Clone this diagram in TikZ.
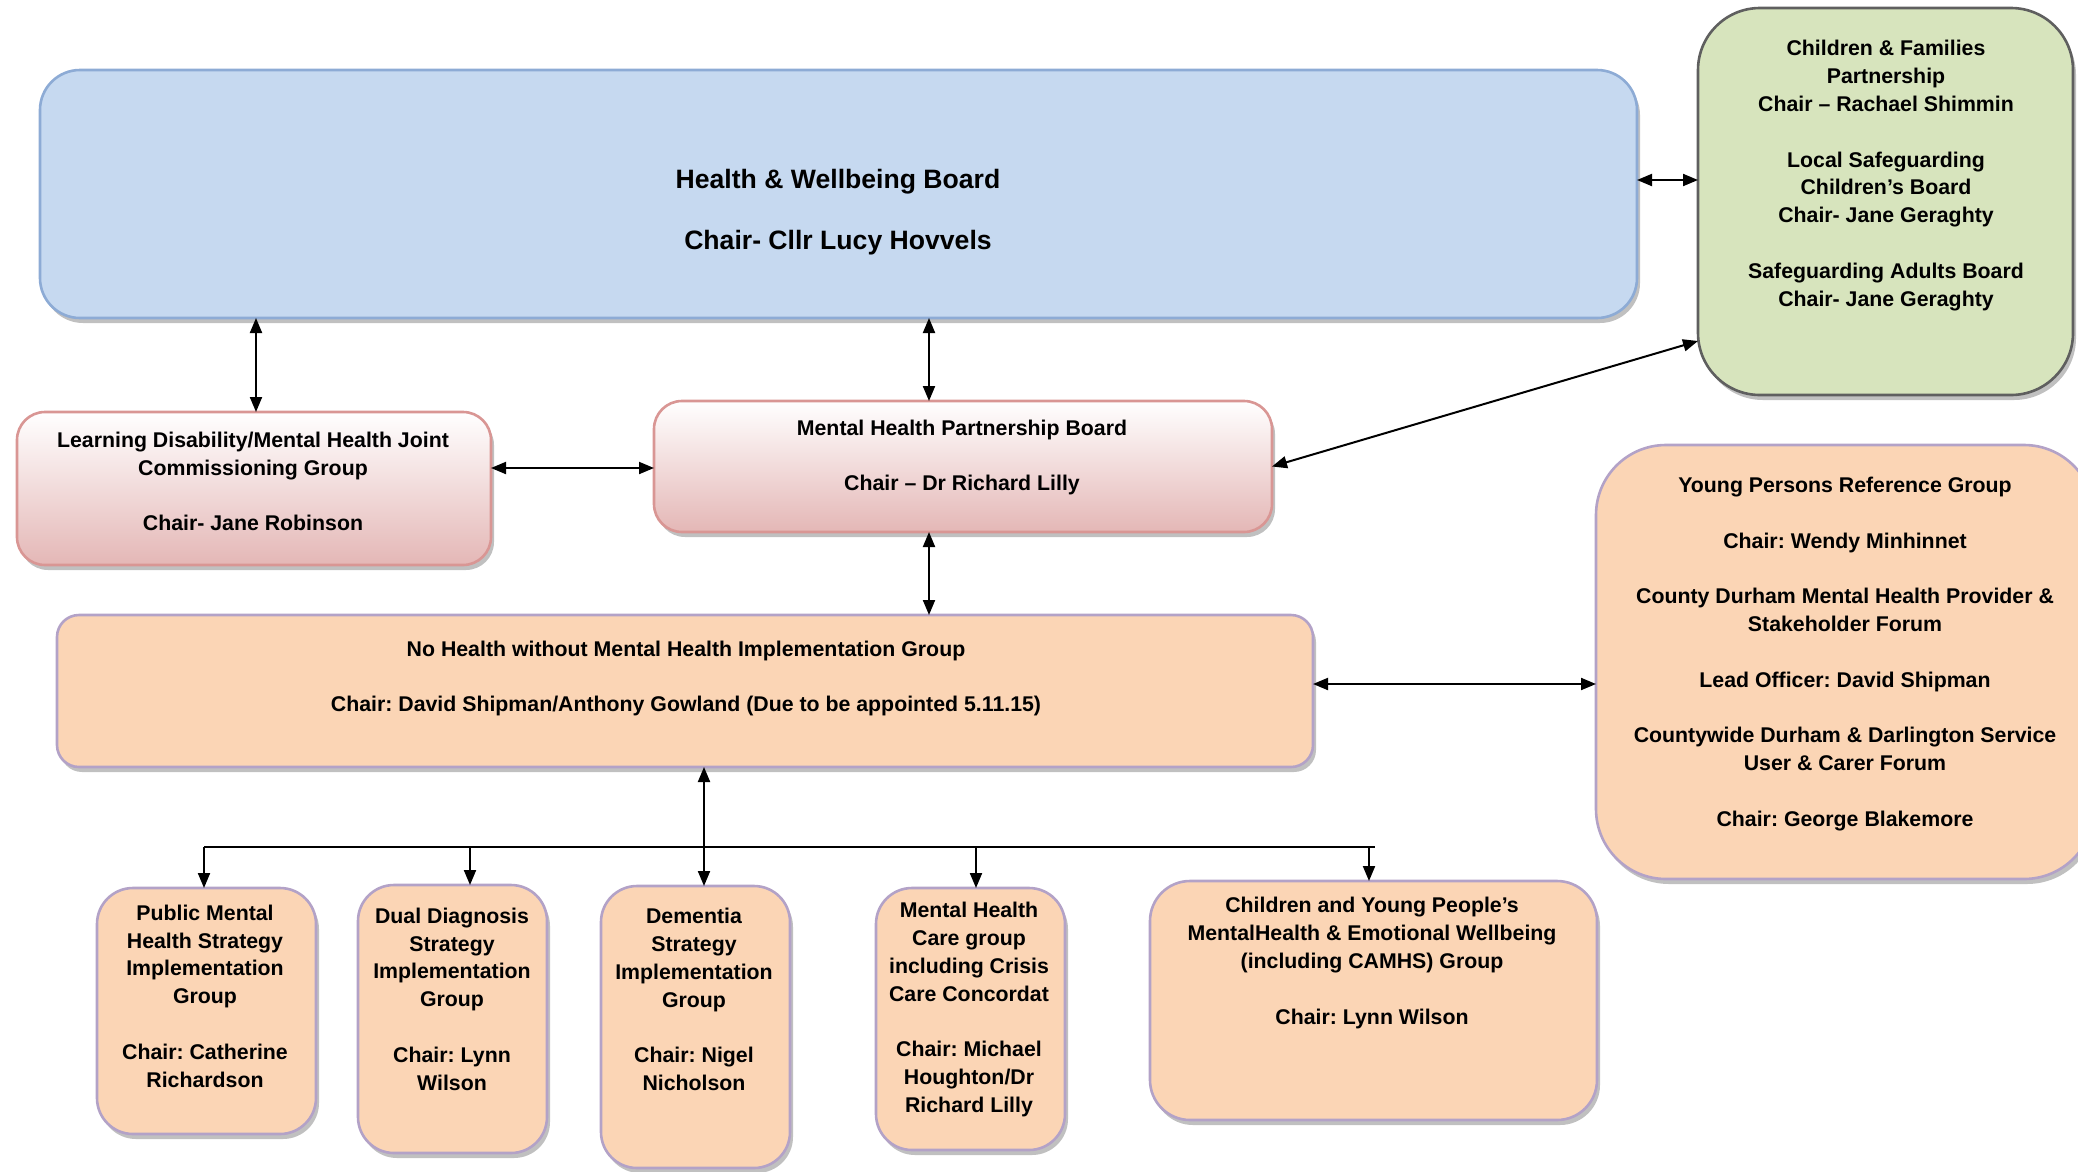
\documentclass[tikz,border=0pt]{standalone}
\usepackage{fontspec}
\setmainfont{Liberation Sans}
\usetikzlibrary{arrows.meta,shadows,calc}
\definecolor{blueF}{RGB}{198,217,240}
\definecolor{blueD}{RGB}{141,171,213}
\definecolor{greenF}{RGB}{215,228,189}
\definecolor{greenD}{RGB}{95,95,95}
\definecolor{pinkB}{RGB}{228,183,182}
\definecolor{pinkD}{RGB}{217,150,148}
\definecolor{peachF}{RGB}{251,213,181}
\definecolor{peachD}{RGB}{179,162,199}
\frenchspacing
\begin{document}
\begin{tikzpicture}[x=1pt,y=-1pt,
  box/.style={rounded corners=#1, line width=2.6pt, inner sep=0pt, outer sep=0pt,
    drop shadow={shadow xshift=3pt,shadow yshift=-5pt,fill=black!55,opacity=0.45}},
  bluebox/.style={box=#1, fill=blueF, draw=blueD},
  greenbox/.style={box=#1, fill=greenF, draw=greenD},
  pinkbox/.style={box=#1, top color=white, bottom color=pinkB, draw=pinkD},
  peachbox/.style={box=#1, fill=peachF, draw=peachD},
  txt/.style={align=center, inner sep=0pt, font=\frenchspacing\fontsize{21.3pt}{27.8pt}\selectfont\bfseries},
  bigtxt/.style={align=center, inner sep=0pt, font=\frenchspacing\fontsize{26.6pt}{30.5pt}\selectfont\bfseries},
  dbl/.style={{Triangle[length=15pt,width=12pt]}-{Triangle[length=15pt,width=12pt]}, line width=2pt},
  arr/.style={-{Triangle[length=15pt,width=12pt]}, line width=2pt},
  bus/.style={line width=2.4pt}
]
\useasboundingbox (0,0) rectangle (2078,1171);
\clip (0,0) rectangle (2078,1171);

% boxes
\node[bluebox=40pt, minimum width=1597pt, minimum height=248pt] (hwb) at (838.5,194) {};
\node[greenbox=62pt, minimum width=375pt, minimum height=387pt] (grn) at (1885.5,201.5) {};
\node[pinkbox=28pt, minimum width=474pt, minimum height=153pt] (ld) at (254,488.5) {};
\node[pinkbox=28pt, minimum width=618pt, minimum height=131pt] (mhpb) at (963,466.5) {};
\node[peachbox=22pt, minimum width=1256pt, minimum height=152pt] (nhw) at (685,691) {};
\node[peachbox=70pt, minimum width=498pt, minimum height=434pt] (yp) at (1845,662) {};
\node[peachbox=36pt, minimum width=219pt, minimum height=246pt] (pub) at (206.5,1011) {};
\node[peachbox=36pt, minimum width=189pt, minimum height=268pt] (dual) at (452.5,1019) {};
\node[peachbox=36pt, minimum width=189pt, minimum height=282pt] (dem) at (695.5,1027) {};
\node[peachbox=36pt, minimum width=189pt, minimum height=262pt] (mhc) at (970.5,1019) {};
\node[peachbox=40pt, minimum width=447pt, minimum height=239pt] (cyp) at (1373.5,1000.5) {};

% texts
\node[bigtxt] (hwbT) at (838,212) {Health \& Wellbeing Board\\[30.5pt]Chair- Cllr Lucy Hovvels};
\node[txt] (grnT) at (1886,175.5) {Children \& Families\\Partnership\\Chair – Rachael Shimmin\\[27.8pt]Local Safeguarding\\Children’s Board\\Chair- Jane Geraghty\\[27.8pt]Safeguarding Adults Board\\Chair- Jane Geraghty};
\node[txt] (ldT) at (253,481.5) {Learning Disability/Mental Health Joint\\Commissioning Group\\[27.8pt]Chair- Jane Robinson};
\node[txt] (mhpbT) at (962,457.5) {Mental Health Partnership Board\\[27.8pt]Chair – Dr Richard Lilly};
\node[txt] (nhwT) at (686,678.5) {No Health without Mental Health Implementation Group\\[27.8pt]Chair: David Shipman/Anthony Gowland (Due to be appointed 5.11.15)};
\node[txt] (ypT) at (1845,654) {Young Persons Reference Group\\[27.8pt]Chair: Wendy Minhinnet\\[27.8pt]County Durham Mental Health Provider \&\\Stakeholder Forum\\[27.8pt]Lead Officer: David Shipman\\[27.8pt]Countywide Durham \& Darlington Service\\User \& Carer Forum\\[27.8pt]Chair: George Blakemore};
\node[txt] (pubT) at (205,996) {Public Mental\\Health Strategy\\Implementation\\Group\\[27.8pt]Chair: Catherine\\Richardson};
\node[txt] (dualT) at (452,999) {Dual Diagnosis\\Strategy\\Implementation\\Group\\[27.8pt]Chair: Lynn\\Wilson};
\node[txt] (demT) at (694,999.5) {Dementia\\Strategy\\Implementation\\Group\\[27.8pt]Chair: Nigel\\Nicholson};
\node[txt] (mhcT) at (969,1009.5) {Mental Health\\Care group\\including Crisis\\Care Concordat\\[27.8pt]Chair: Michael\\Houghton/Dr\\Richard Lilly};
\node[txt] (cypT) at (1372,963) {Children and Young People’s\\MentalHealth \& Emotional Wellbeing\\(including CAMHS) Group\\[27.8pt]Chair: Lynn Wilson};

% connector reference coordinates
\coordinate (xa) at (256,0);
\coordinate (xb) at (929,0);
\coordinate (xc) at (704,0);
\coordinate (ya) at (0,468);
\coordinate (yb) at (0,180);
\coordinate (yc) at (0,341);
\coordinate (yd) at (0,684);
\coordinate (bL) at (204,847);
\coordinate (bR) at (1375,847);
\coordinate (b2) at (470,847);
\coordinate (b4) at (976,847);
\coordinate (b5) at (1369,847);

% connectors
\draw[dbl] (hwb.south -| xa) -- (ld.north -| xa);
\draw[dbl] (hwb.south -| xb) -- (mhpb.north -| xb);
\draw[dbl] (ld.east |- ya) -- (mhpb.west |- ya);
\draw[dbl] (hwb.east |- yb) -- (grn.west |- yb);
\draw[dbl] (mhpb.east) -- (grn.west |- yc);
\draw[dbl] (mhpb.south -| xb) -- (nhw.north -| xb);
\draw[dbl] (nhw.east |- yd) -- (yp.west |- yd);
\draw[bus] (bL) -- (bR);
\draw[dbl] (nhw.south -| xc) -- (dem.north -| xc);
\draw[arr] (bL) -- (pub.north -| bL);
\draw[arr] (b2) -- (dual.north -| b2);
\draw[arr] (b4) -- (mhc.north -| b4);
\draw[arr] (b5) -- (cyp.north -| b5);
\end{tikzpicture}
\end{document}
